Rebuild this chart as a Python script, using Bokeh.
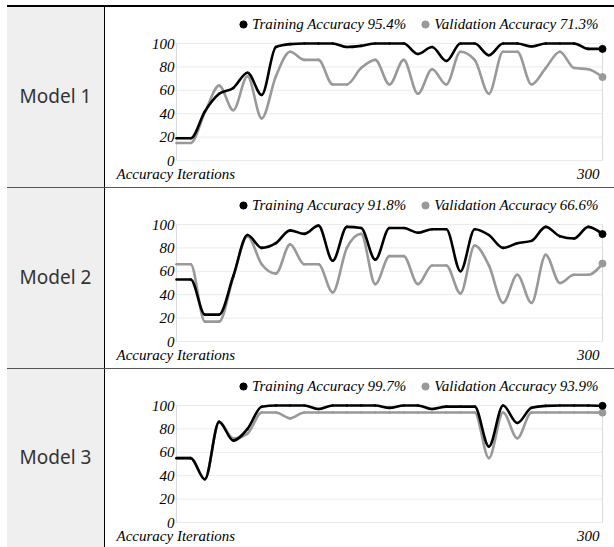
import numpy as np
from bokeh.plotting import figure
from bokeh.layouts import column, row
from bokeh.models import Range1d, FixedTicker, Legend, LegendItem, Div, Label
from bokeh.embed import file_html
from bokeh.resources import INLINE

# ---------------- data ----------------
iterations = list(range(0, 301, 10))
model_names = ["Model 1", "Model 2", "Model 3"]

train_m1 = [19, 19, 42, 57, 62, 75, 56, 97, 99.5, 100, 100, 100, 97, 98, 100, 100,
            100, 91, 97, 85, 100, 100, 90, 100, 100, 97.5, 100, 100, 100, 95.4, 95.4]
val_m1 = [15, 15, 41, 64, 43, 72, 36, 72, 93, 86, 86, 65, 65, 79, 86, 65,
          86, 57, 78, 65, 93, 86, 57, 93, 93, 65, 79, 93, 79, 78, 71.3]

train_m2 = [53, 53, 23, 23, 56, 91, 80, 84, 95, 92, 99, 69, 98, 97, 70, 97,
            97, 93, 96, 96, 60, 96, 91, 80, 84, 86, 98, 90, 88, 98, 91.8]
val_m2 = [66, 66, 17, 17, 55, 90, 66, 58, 83, 66, 66, 42, 80, 92, 49, 73,
          73, 49, 65, 65, 41, 82, 65, 33, 57, 33, 74, 50, 57, 57, 66.6]

train_m3 = [55, 55, 37, 86, 70, 80, 99, 100, 100, 100, 97, 100, 100, 100, 100, 98,
            100, 100, 97, 99, 99, 99, 65, 100, 85, 98, 99.7, 100, 100, 100, 99.7]
val_m3 = [55, 55, 37, 86, 72, 76, 94, 94, 89, 94, 94, 94, 94, 94, 94, 94,
          94, 94, 94, 94, 94, 94, 55, 94, 72, 94, 94, 94, 94, 94, 93.9]

train_series = [train_m1, train_m2, train_m3]
val_series = [val_m1, val_m2, val_m3]

y_ticks = [0, 20, 40, 60, 80, 100]
x_ticks = [0, 300]
x_title = "Accuracy Iterations"
x_end_label = "300"
train_name = "Training Accuracy"
val_name = "Validation Accuracy"

# ---------------- style / layout ----------------
TOTAL_W = 607
LABEL_W = 97
CHART_W = TOTAL_W - LABEL_W - 1
ROW_H = [180, 180, 178]
Y0_OFF = 153                 # pixel of y=0 from row top
Y100_OFF = 36                # pixel of y=100 from row top
X0_PX = 71                   # pixel of x=0 inside chart canvas
PX_PER_X = 1.42
FRAME_LEFT = 5

SERIF = "Liberation Serif"
TRAIN_COLOR = "#000000"
VAL_COLOR = "#999999"
CELL_GREY = "#efefef"
GRID_COLOR = "#ebebeb"
EDGE_COLOR = "#dcdcdc"


def monotone_tangents(x, y):
    x = np.asarray(x, float)
    y = np.asarray(y, float)
    n = len(x)
    h = np.diff(x)
    s = np.diff(y) / h
    t = np.zeros(n)
    for i in range(1, n - 1):
        h0, h1 = h[i - 1], h[i]
        s0, s1 = s[i - 1], s[i]
        p = (s0 * h1 + s1 * h0) / (h0 + h1)
        sg = (1 if s0 >= 0 else -1) + (1 if s1 >= 0 else -1)
        t[i] = sg * min(abs(s0), abs(s1), 0.5 * abs(p))
    t[0] = (3 * s[0] - t[1]) / 2
    t[-1] = (3 * s[-1] - t[-2]) / 2
    return t


def smooth_line(p, x, y, color, width):
    x = np.asarray(x, float)
    y = np.asarray(y, float)
    t = monotone_tangents(x, y)
    dx = np.diff(x) / 3
    p.bezier(x0=x[:-1], y0=y[:-1], x1=x[1:], y1=y[1:],
             cx0=x[:-1] + dx, cy0=y[:-1] + dx * t[:-1],
             cx1=x[1:] - dx, cy1=y[1:] - dx * t[1:],
             line_color=color, line_width=width, line_cap="round")


def bar(w, h, color):
    return Div(text="", width=w, height=h, margin=0,
               styles={"background-color": color})


def label_cell(name, h):
    return Div(text=name, width=LABEL_W, height=h, margin=0,
               styles={"background-color": CELL_GREY, "display": "flex",
                       "align-items": "center", "justify-content": "center",
                       "font-family": "'Noto Sans'", "font-size": "19px",
                       "color": "#333333"})


def serif_label(text, x, x_off, align):
    return Label(x=x, y=0, text=text, x_offset=x_off, y_offset=-13,
                 text_align=align, text_baseline="alphabetic",
                 text_font=SERIF, text_font_style="italic",
                 text_font_size="15px", text_color="black")


def chart_fig(train, val, h):
    ppy = (Y0_OFF - Y100_OFF) / 100.0
    x_start = (FRAME_LEFT - X0_PX) / PX_PER_X
    x_end = (CHART_W - X0_PX) / PX_PER_X
    y_end = 100 + Y100_OFF / ppy
    y_start = -(h - Y0_OFF) / ppy
    p = figure(width=CHART_W, height=h,
               x_range=Range1d(x_start, x_end), y_range=Range1d(y_start, y_end),
               toolbar_location=None, output_backend="svg",
               min_border_left=FRAME_LEFT, min_border_right=0,
               min_border_top=0, min_border_bottom=0)
    p.margin = 0
    p.outline_line_color = None
    p.background_fill_color = "white"
    p.border_fill_color = "white"
    p.grid.visible = False
    p.xaxis.visible = False

    # grid drawn only inside the 0..300 x 0..100 plot area
    p.segment(x0=[x_ticks[0]] * len(y_ticks), x1=[x_ticks[-1]] * len(y_ticks),
              y0=y_ticks, y1=y_ticks, line_color=GRID_COLOR, line_width=1)
    p.segment(x0=x_ticks, x1=x_ticks, y0=[y_ticks[0]] * len(x_ticks),
              y1=[y_ticks[-1]] * len(x_ticks), line_color=EDGE_COLOR, line_width=1)

    yax = p.yaxis[0]
    yax.fixed_location = x_ticks[0]
    yax.ticker = FixedTicker(ticks=y_ticks)
    yax.axis_line_color = None
    yax.major_tick_line_color = None
    yax.minor_tick_line_color = None
    yax.major_label_standoff = -4
    yax.major_label_text_font = SERIF
    yax.major_label_text_font_style = "italic"
    yax.major_label_text_font_size = "15px"
    yax.major_label_text_color = "black"

    smooth_line(p, iterations, val, VAL_COLOR, 2.6)
    smooth_line(p, iterations, train, TRAIN_COLOR, 2.6)
    r_val = p.scatter([iterations[-1]], [val[-1]], size=7, color=VAL_COLOR)
    r_tr = p.scatter([iterations[-1]], [train[-1]], size=7, color=TRAIN_COLOR)

    p.add_layout(serif_label(x_title, x_ticks[0], -60, "left"))
    p.add_layout(serif_label(x_end_label, x_ticks[-1], -3, "right"))

    legend = Legend(items=[
        LegendItem(label=f"{train_name} {train[-1]}%", renderers=[r_tr]),
        LegendItem(label=f"{val_name} {val[-1]}%", renderers=[r_val]),
    ], orientation="horizontal", location=(124, h - 26))
    legend.margin = 0
    legend.padding = 0
    legend.spacing = 10
    legend.glyph_width = 18
    legend.glyph_height = 18
    legend.label_height = 18
    legend.label_standoff = -4
    legend.border_line_color = None
    legend.background_fill_alpha = 0
    legend.label_text_font = SERIF
    legend.label_text_font_style = "italic"
    legend.label_text_font_size = "15px"
    legend.label_text_color = "black"
    p.add_layout(legend)
    return p


children = [bar(TOTAL_W, 2, "black")]
for i, name in enumerate(model_names):
    h = ROW_H[i]
    if i > 0:
        children.append(bar(TOTAL_W, 1, "#555555"))
    children.append(row(label_cell(name, h), bar(1, h, "black"),
                        chart_fig(train_series[i], val_series[i], h),
                        spacing=0, margin=0))

layout = column(*children, spacing=0, margin=(5, 0, 0, 7))

open("out.html", "w").write(file_html(layout, INLINE))
